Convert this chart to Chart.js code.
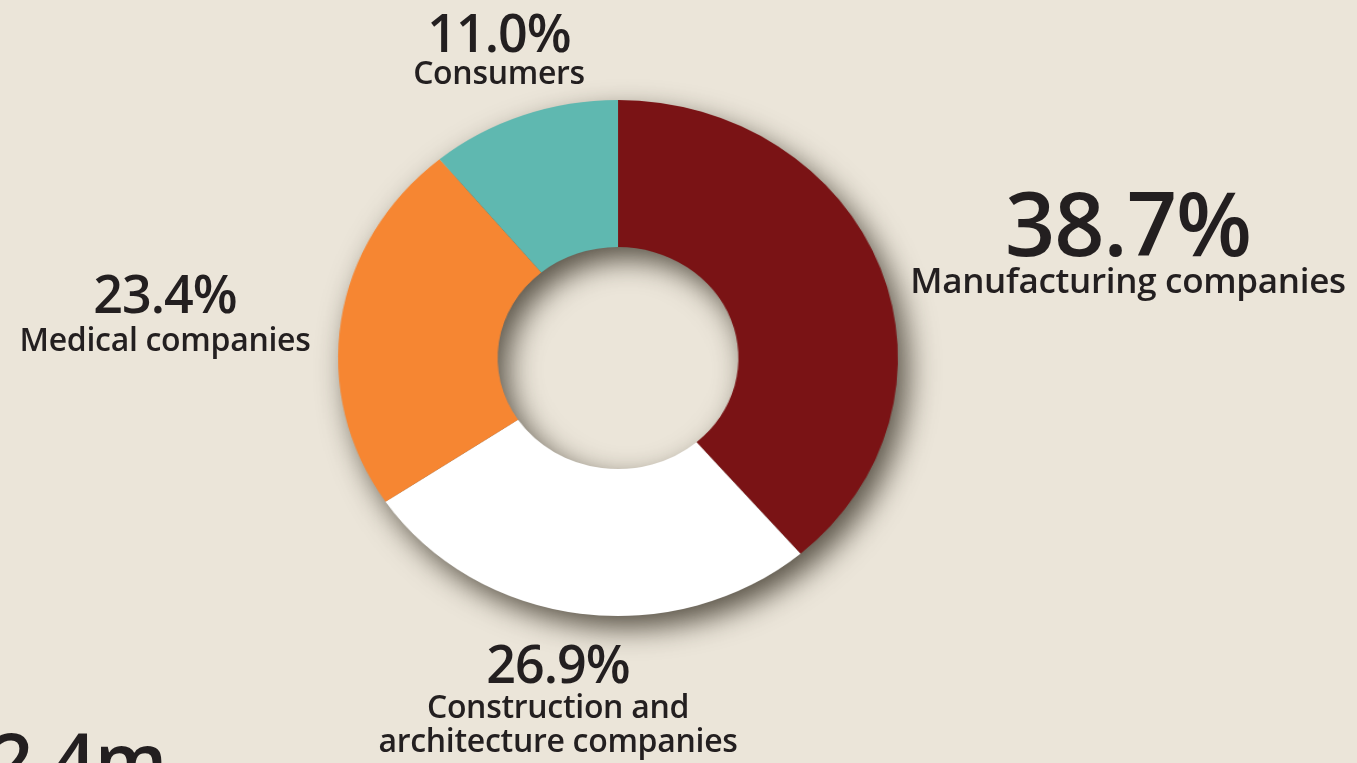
<!DOCTYPE html>
<html>
<head>
<meta charset="utf-8">
<script src="https://cdn.jsdelivr.net/npm/chart.js@4.4.1/dist/chart.umd.min.js"></script>
<style>
  html, body {
    margin: 0;
    padding: 0;
    width: 1357px;
    height: 763px;
    overflow: hidden;
    background: #ebe5d9;
    font-family: "Open Sans", sans-serif;
    color: #231f20;
  }
  #wrap {
    position: absolute;
    left: 300px;
    top: 40px;
    width: 636px;
    height: 636px;
    transform: scaleX(1.085);
    transform-origin: 50% 50%;
  }
  .lbl {
    position: absolute;
    transform: translateX(-50%);
    white-space: pre;
    text-align: center;
    font-weight: 600;
    line-height: 1;
  }
  .name {
    line-height: 34px;
    letter-spacing: -0.3px;
  }
  #big {
    position: absolute;
    left: -10px;
    top: 721px;
    font-size: 76px;
    font-weight: 600;
    line-height: 1;
    letter-spacing: -1px;
  }
</style>
</head>
<body>
<div id="wrap"><canvas id="donut"></canvas></div>
<div id="labels"></div>
<div id="big">2.4m</div>

<script>
  // share of customers by segment, clockwise from 12 o'clock
  const categories = [
    "Manufacturing companies",
    "Construction and\narchitecture companies",
    "Medical companies",
    "Consumers",
  ];
  const shares = [38.7, 26.9, 23.4, 11.0];
  const colours = ["#7a1315", "#ffffff", "#f68632", "#5fb8b0"];

  // where each segment's caption sits on the page
  const labelSpots = [
    { x: 1128, top: 178, size: 88, nameTop: 263, nameSize: 35 },
    { x: 558, top: 637, size: 52, nameTop: 689, nameSize: 32 },
    { x: 165, top: 267, size: 52, nameTop: 322, nameSize: 32 },
    { x: 499, top: 6, size: 52, nameTop: 55, nameSize: 32 },
  ];

  const labelBox = document.getElementById("labels");
  categories.forEach((name, i) => {
    const spot = labelSpots[i];
    const pct = document.createElement("div");
    pct.className = "lbl";
    pct.style.left = spot.x + "px";
    pct.style.top = spot.top + "px";
    pct.style.fontSize = spot.size + "px";
    pct.style.letterSpacing = "-1px";
    pct.textContent = shares[i].toFixed(1) + "%";
    labelBox.appendChild(pct);

    const nm = document.createElement("div");
    nm.className = "lbl name";
    nm.style.left = spot.x + "px";
    nm.style.top = spot.nameTop + "px";
    nm.style.fontSize = spot.nameSize + "px";
    nm.textContent = name;
    labelBox.appendChild(nm);
  });

  // soft drop shadow under the whole ring (drawn off-canvas so only the shadow lands)
  const ringShadow = {
    id: "ringShadow",
    beforeDatasetsDraw(chart) {
      const arc = chart.getDatasetMeta(0).data[0];
      if (!arc) return;
      const { x, y, outerRadius, innerRadius } = arc.getProps(
        ["x", "y", "outerRadius", "innerRadius"], true
      );
      const ctx = chart.ctx;
      const shift = 5000;
      ctx.save();
      ctx.shadowColor = "rgba(40, 34, 22, 0.75)";
      ctx.shadowBlur = 28;
      ctx.shadowOffsetX = shift + 9;
      ctx.shadowOffsetY = 12;
      ctx.beginPath();
      ctx.arc(x - shift, y, outerRadius, 0, Math.PI * 2);
      ctx.arc(x - shift, y, innerRadius, 0, Math.PI * 2, true);
      ctx.fillStyle = "#000";
      ctx.fill();
      ctx.restore();
    },
  };

  new Chart(document.getElementById("donut"), {
    type: "doughnut",
    data: {
      labels: categories,
      datasets: [
        {
          data: shares,
          backgroundColor: colours,
          borderWidth: 0,
          hoverOffset: 0,
        },
      ],
    },
    options: {
      responsive: true,
      maintainAspectRatio: false,
      animation: false,
      cutout: "43%",
      layout: { padding: 60 },
      events: [],
      plugins: {
        legend: { display: false },
        tooltip: { enabled: false },
      },
    },
    plugins: [ringShadow],
  });
</script>
</body>
</html>
